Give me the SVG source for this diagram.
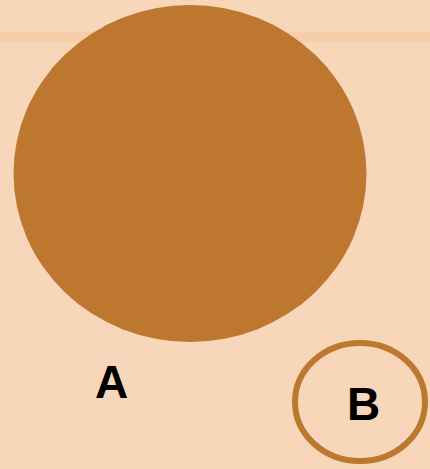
<svg xmlns="http://www.w3.org/2000/svg" width="430" height="469" viewBox="0 0 430 469">
<style>
.lbl{font-family:"Liberation Sans",Arial,sans-serif;font-weight:bold;font-size:46px;fill:#000;text-anchor:middle}
</style>
<rect width="430" height="469" fill="#f7d6ba"/>
<rect x="0" y="32" width="430" height="10" fill="#f5cdaa"/>
<g id="A">
<ellipse cx="190" cy="173.5" rx="176.5" ry="168.5" fill="#bd772f"/>
<text class="lbl" x="111.5" y="398">A</text>
</g>
<g id="B">
<ellipse cx="360" cy="402" rx="65" ry="59" fill="none" stroke="#bd772f" stroke-width="6"/>
<text class="lbl" x="363.5" y="420">B</text>
</g>
<g id="connectors"/>
</svg>
